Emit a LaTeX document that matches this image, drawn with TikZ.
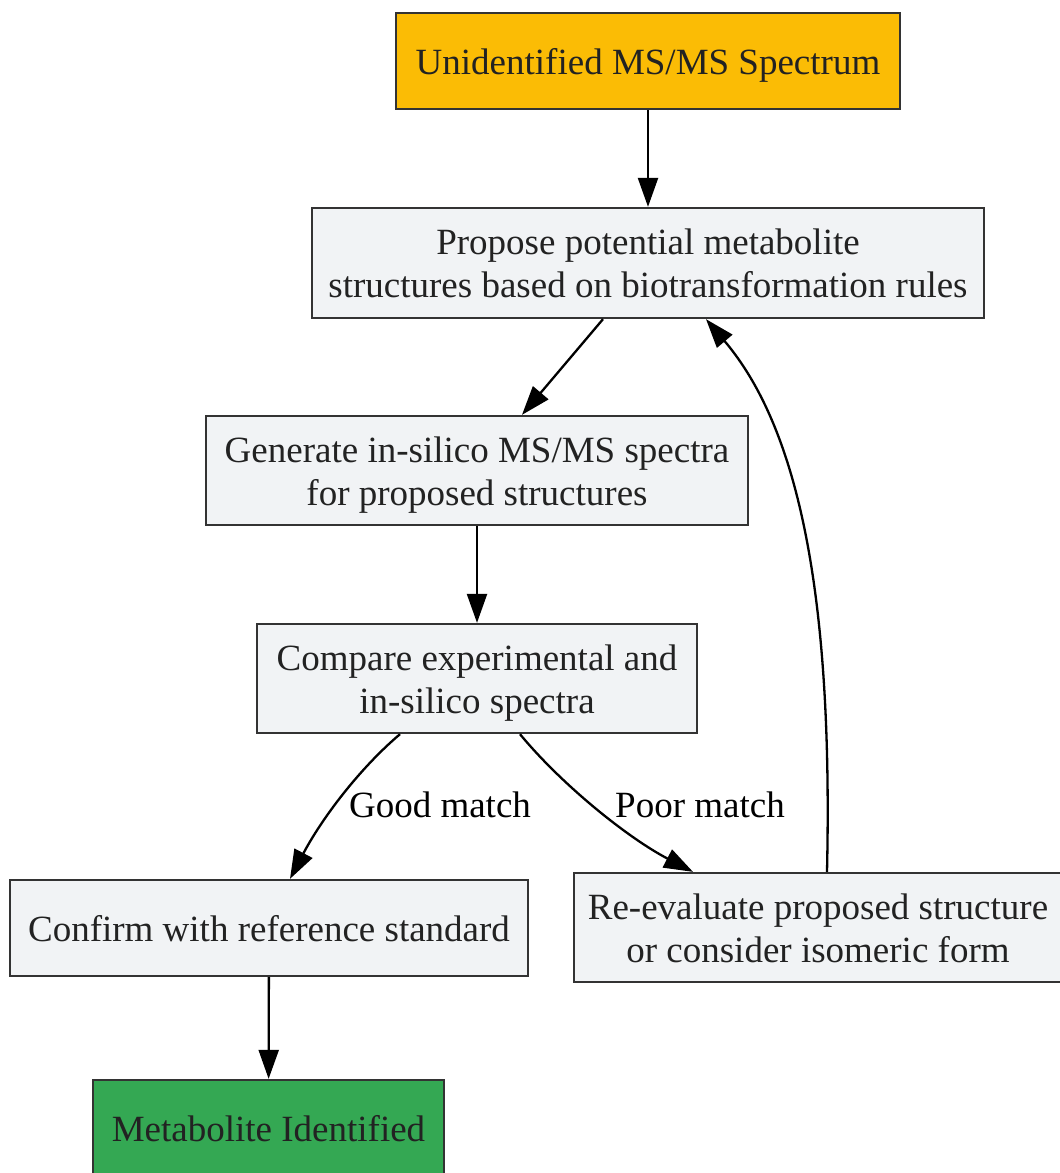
\documentclass[tikz,border=0pt]{standalone}
\usepackage{fontspec}
\setmainfont{Liberation Serif}
\usetikzlibrary{arrows.meta}
\definecolor{cyellow}{HTML}{FBBC05}
\definecolor{cgray}{HTML}{F1F3F5}
\definecolor{cgreen}{HTML}{34A853}
\definecolor{cborder}{HTML}{333333}
\definecolor{ctext}{HTML}{222222}
\begin{document}
\begin{tikzpicture}[x=1pt,y=-1pt,
  box/.style={draw=cborder,line width=2.3pt,fill=cgray,text=ctext,align=center,
    inner sep=0pt,font=\fontsize{37}{43}\selectfont},
  oneline/.style={text height=26pt,text depth=0pt},
  twoline/.style={text height=69pt,text depth=0pt},
  arr/.style={-{Triangle[length=29pt,width=20pt]},line width=2.3pt,black},
  lbl/.style={font=\fontsize{37}{43}\selectfont,text=black}]
\useasboundingbox (0,0) rectangle (1060,1173);
\node[box,oneline,fill=cyellow,minimum width=504pt,minimum height=96pt] (top) at (648,61) {Unidentified MS/MS Spectrum};
\node[box,twoline,minimum width=672pt,minimum height=110pt] (propose) at (648,263) {Propose potential metabolite\\structures based on biotransformation rules};
\node[box,twoline,minimum width=542pt,minimum height=109pt] (generate) at (477,470.5) {Generate in-silico MS/MS spectra\\for proposed structures};
\node[box,twoline,minimum width=440pt,minimum height=109pt] (compare) at (477,678.5) {Compare experimental and\\in-silico spectra};
\node[box,oneline,minimum width=518pt,minimum height=96pt] (confirm) at (269,928) {Confirm with reference standard};
\node[box,twoline,minimum width=488pt,minimum height=109pt] (reeval) at (818,927.5) {Re-evaluate proposed structure\\or consider isomeric form};
\node[box,oneline,fill=cgreen,minimum width=351pt,minimum height=96pt] (ident) at (268.5,1128) {Metabolite Identified};
\draw[arr] (top) -- (propose);
\draw[arr] ([xshift=-45pt]propose.south) -- ([xshift=45pt]generate.north);
\draw[arr] (generate) -- (compare);
\draw[arr] ([xshift=-77pt]compare.south) .. controls (360,768) and (322,818) .. ([xshift=21pt]confirm.north);
\draw[arr] ([xshift=43pt]compare.south) .. controls (562,785) and (628,838) .. ([xshift=-125pt]reeval.north);
\draw[arr] ([xshift=9pt]reeval.north) .. controls (833,600) and (800,430) .. ([xshift=58pt]propose.south);
\draw[arr] (confirm) -- (ident);
\node[lbl] (good) at (440,805) {Good match};
\node[lbl] (poor) at (700,805) {Poor match};
\end{tikzpicture}
\end{document}
